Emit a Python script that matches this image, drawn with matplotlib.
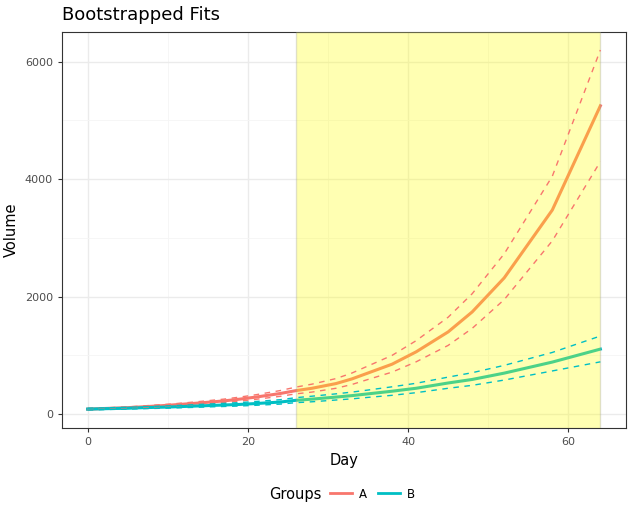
import matplotlib.pyplot as plt
from matplotlib.lines import Line2D

# ── Data ──────────────────────────────────────────────────────────────────────
days    = [0, 3, 5, 7, 10, 12, 14, 17, 19, 21, 24, 26, 28, 31, 33, 35, 38, 41, 45, 48, 52, 58, 64]
a_fit   = [85, 100, 110, 125, 150, 170, 190, 225, 255, 290, 350, 400, 440, 520, 600, 700, 850, 1060, 1400, 1740, 2320, 3475, 5250]
a_hi    = [95, 110, 122, 140, 168, 190, 215, 255, 290, 330, 400, 460, 510, 605, 700, 820, 1000, 1250, 1650, 2050, 2730, 4050, 6200]
a_lo    = [75, 90, 98, 110, 132, 150, 167, 197, 222, 252, 302, 345, 375, 440, 505, 590, 715, 890, 1170, 1460, 1950, 2950, 4300]
b_fit   = [85, 95, 100, 110, 120, 130, 140, 155, 165, 180, 205, 235, 255, 290, 315, 345, 390, 440, 530, 590, 698, 886, 1107]
b_hi    = [100, 110, 116, 127, 140, 152, 165, 183, 196, 215, 245, 280, 305, 345, 375, 410, 465, 525, 630, 705, 830, 1050, 1330]
b_lo    = [70, 80, 85, 93, 102, 110, 118, 130, 138, 150, 170, 195, 210, 240, 260, 285, 320, 365, 440, 490, 580, 735, 890]
shade   = (26, 64)

RED, CYAN = '#F8766D', '#00BFC4'

fig = plt.figure(figsize=(6.34, 5.12), dpi=100)
ax = fig.add_axes([62/634, 1 - 428/512, 564/634, 396/512])

ax.plot(days, a_fit, color=RED, lw=2.2, zorder=2)
ax.plot(days, b_fit, color=CYAN, lw=2.2, zorder=2)
ax.axvspan(*shade, facecolor='#FFFF00', alpha=0.3, edgecolor='#999999', lw=1, zorder=3)
for y, c in [(a_hi, RED), (a_lo, RED), (b_hi, CYAN), (b_lo, CYAN)]:
    ax.plot(days, y, color=c, lw=1, ls=(0, (4, 4)), zorder=4)

ax.margins(x=0.05, y=0.05)
ax.set_xticks([0, 20, 40, 60])
ax.set_yticks([0, 2000, 4000, 6000])
ax.set_xticks([10, 30, 50], minor=True)
ax.set_yticks([1000, 3000, 5000], minor=True)
ax.grid(True, which='major', color='#EBEBEB', lw=1, zorder=0)
ax.grid(True, which='minor', color='#F5F5F5', lw=0.6, zorder=0)
ax.set_axisbelow(True)
ax.tick_params(which='minor', length=0)
ax.tick_params(which='major', length=3, color='#333333', labelsize=8, labelcolor='#4D4D4D')
for s in ax.spines.values():
    s.set_color('#333333')
    s.set_linewidth(0.8)

ax.set_xlabel('Day', fontsize=10.5)
ax.set_ylabel('Volume', fontsize=10.5)
fig.text(62/634, 1 - 15/512, 'Bootstrapped Fits', fontsize=13, ha='left', va='center')

handles = [Line2D([], [], color=RED, lw=2), Line2D([], [], color=CYAN, lw=2)]
fig.text(322/634, 1 - 494/512, 'Groups', fontsize=10.5, ha='right', va='center')
fig.legend(handles, ['A', 'B'], loc='center left', bbox_to_anchor=(322/634, 1 - 494/512),
           ncol=2, frameon=False, fontsize=8.5, handlelength=1.8, borderpad=0.2,
           columnspacing=1.0, handletextpad=0.6)

fig.savefig('out.png', dpi=100)
